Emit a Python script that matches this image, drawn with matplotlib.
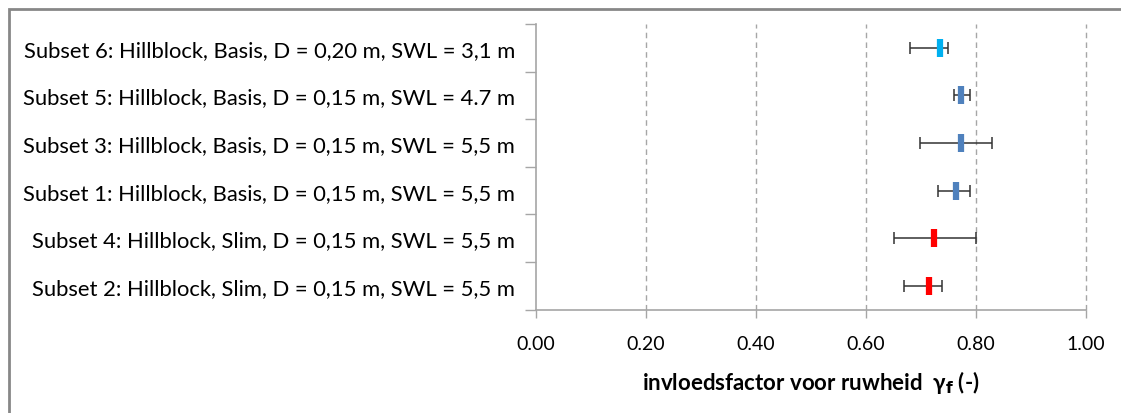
import matplotlib
matplotlib.use("Agg")
import matplotlib.pyplot as plt
from matplotlib.patches import Rectangle

# data, bottom to top as drawn
labels = [
    "Subset 2: Hillblock, Slim, D = 0,15 m, SWL = 5,5 m",
    "Subset 4: Hillblock, Slim, D = 0,15 m, SWL = 5,5 m",
    "Subset 1: Hillblock, Basis, D = 0,15 m, SWL = 5,5 m",
    "Subset 3: Hillblock, Basis, D = 0,15 m, SWL = 5,5 m",
    "Subset 5: Hillblock, Basis, D = 0,15 m, SWL = 4.7 m",
    "Subset 6: Hillblock, Basis, D = 0,20 m, SWL = 3,1 m",
]
gamma_f = [0.715, 0.724, 0.764, 0.774, 0.774, 0.735]
gamma_min = [0.669, 0.651, 0.731, 0.699, 0.760, 0.680]
gamma_max = [0.739, 0.800, 0.790, 0.830, 0.790, 0.750]
colors = ["#FF0000", "#FF0000", "#4F81BD", "#4F81BD", "#4F81BD", "#00B0F0"]
xticks = [0.0, 0.2, 0.4, 0.6, 0.8, 1.0]

font = "Lato"
axcol = "#A6A6A6"

fig = plt.figure(figsize=(11.21, 4.14), dpi=100)
ax = fig.add_axes([536 / 1121, 1 - 310.7 / 414, (1085.7 - 536) / 1121, (310.7 - 25) / 414])

for i in range(len(labels)):
    lo = gamma_f[i] - gamma_min[i]
    hi = gamma_max[i] - gamma_f[i]
    ax.errorbar(gamma_f[i], i, xerr=[[lo], [hi]], fmt="none", ecolor="#333333",
                elinewidth=1.1, capsize=4, capthick=1.1, zorder=3)
    ax.plot(gamma_f[i], i, marker="|", markersize=13, markeredgewidth=4.5,
            color=colors[i], zorder=4, linestyle="none")

ax.set_xlim(0, 1)
ax.set_ylim(-0.5, len(labels) - 0.5)
ax.set_xticks(xticks)
ax.set_xticklabels(["%.2f" % v for v in xticks], fontsize=14, fontname=font)
ax.set_yticks(range(len(labels)))
ax.set_yticklabels(labels, fontsize=15.8, fontname=font)
ax.tick_params(axis="y", length=0, pad=15)
ax.set_yticks([i + 0.5 for i in range(-1, len(labels))], minor=True)
ax.tick_params(axis="y", which="minor", length=8, color=axcol, width=1)
ax.tick_params(axis="x", length=6, color=axcol, width=1, pad=12)

for v in xticks[1:]:
    ax.axvline(v, color="#A6A6A6", linestyle=(0, (4, 3)), linewidth=1, zorder=1, clip_on=False)

for s in ["top", "right"]:
    ax.spines[s].set_visible(False)
for s in ["left", "bottom"]:
    ax.spines[s].set_color(axcol)
    ax.spines[s].set_linewidth(1.2)

ax.set_xlabel("invloedsfactor voor ruwheid  γ$_\\mathbf{f}$ (-)", fontsize=16,
              fontname=font, fontweight="bold", labelpad=12)

# outer chart frame
fig.patches.append(Rectangle((9 / 1121, -0.1), 1.2, 1 - 10 / 414 + 0.1, transform=fig.transFigure,
                             fill=False, edgecolor="#878787", linewidth=2, zorder=0))

fig.savefig("out.png", dpi=100)
